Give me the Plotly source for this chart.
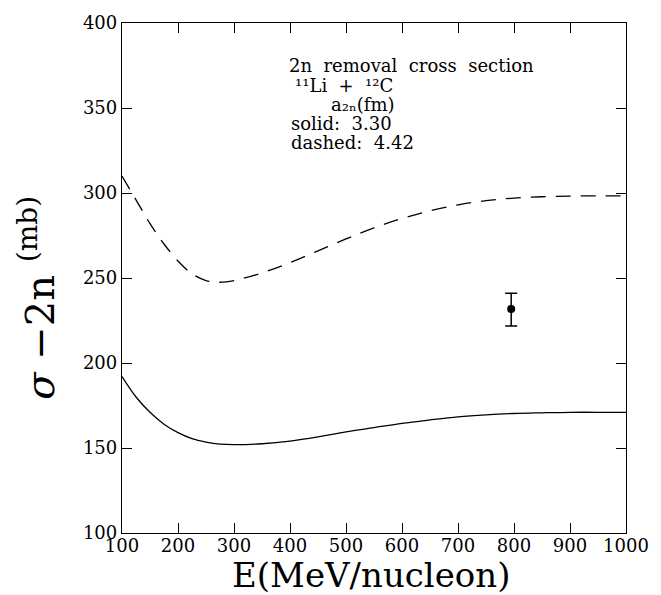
import plotly.graph_objects as go

# solid curve (a2n = 3.30 fm)
solid_E = [100, 125, 150, 175, 200, 225, 250, 275, 300, 350, 400, 450, 500, 550, 600, 650, 700, 750, 800, 850, 900, 950, 1000]
solid_sig = [192, 180, 171, 164, 159, 155.5, 153.5, 152.3, 152, 152.5, 154, 156.5, 159.5, 162, 164.5, 166.5, 168.3, 169.5, 170.3, 170.7, 171, 171, 171]

# dashed curve (a2n = 4.42 fm)
dashed_E = [100, 125, 150, 175, 200, 225, 250, 275, 300, 350, 400, 450, 500, 550, 600, 650, 700, 750, 800, 850, 900, 950, 1000]
dashed_sig = [310, 296, 282, 270, 260, 252.5, 248.5, 247.5, 248.5, 253, 259, 266, 273, 279.5, 285, 289.5, 293, 295.5, 297, 297.8, 298.2, 298.3, 298.3]

# experimental point
exp_E = [795]
exp_sig = [231.8]
exp_err_plus = [9.3]
exp_err_minus = [10.1]

x_ticks = [100, 200, 300, 400, 500, 600, 700, 800, 900, 1000]
y_ticks = [100, 150, 200, 250, 300, 350, 400]

serif = "DejaVu Serif"

fig = go.Figure()
fig.add_trace(go.Scatter(x=solid_E, y=solid_sig, mode="lines", line=dict(color="black", width=1.3, shape="spline"), showlegend=False))
fig.add_trace(go.Scatter(x=dashed_E, y=dashed_sig, mode="lines", line=dict(color="black", width=1.3, dash="15px,10px", shape="spline"), showlegend=False))
fig.add_trace(go.Scatter(x=exp_E, y=exp_sig, mode="markers",
                         marker=dict(color="black", size=8),
                         error_y=dict(type="data", array=exp_err_plus, arrayminus=exp_err_minus, color="black", thickness=1.5, width=6),
                         showlegend=False))

axis_common = dict(showgrid=False, zeroline=False, showline=True, linecolor="black", linewidth=1.3,
                   mirror="ticks", ticks="inside", ticklen=10, tickwidth=1, tickcolor="black",
                   tickfont=dict(family=serif, size=18, color="black"))

fig.update_xaxes(range=[100, 1000], tickvals=x_ticks, ticktext=[str(v) for v in x_ticks],
                 ticklabelstandoff=-4, **axis_common)
fig.update_yaxes(range=[100, 400], tickvals=y_ticks, ticktext=[str(v) for v in y_ticks], **axis_common)

fig.update_layout(
    width=661, height=595,
    margin=dict(l=122, r=29, t=18, b=62),
    paper_bgcolor="white", plot_bgcolor="white",
    font=dict(family=serif, color="black"),
)

fig.add_annotation(x=0.496, xref="paper", y=-0.082, yref="paper", yanchor="middle", xanchor="center",
                   text="E(MeV/nucleon)", showarrow=False, borderpad=0,
                   font=dict(family=serif, size=34, color="black"))
fig.add_annotation(x=-0.168, xref="paper", y=0.462, yref="paper", xanchor="center", yanchor="middle",
                   text="<i>σ</i> −2n <sup>(mb)</sup>", textangle=-90, showarrow=False,
                   font=dict(family=serif, size=40, color="black"))

lines = [
    (290, 61, "2n  removal  cross  section"),
    (296, 81, "¹¹Li  +  ¹²C"),
    (332, 100, "a₂ₙ(fm)"),
    (292, 119, "solid:  3.30"),
    (292, 139, "dashed:  4.42"),
]
for px, py, t in lines:
    fig.add_annotation(x=(px - 122) / 510, xref="paper", y=(533 - py) / 515, yref="paper",
                       xanchor="left", yanchor="middle", text=t, showarrow=False, borderpad=0,
                       font=dict(family=serif, size=18, color="black"))

fig.write_html("out.html")
